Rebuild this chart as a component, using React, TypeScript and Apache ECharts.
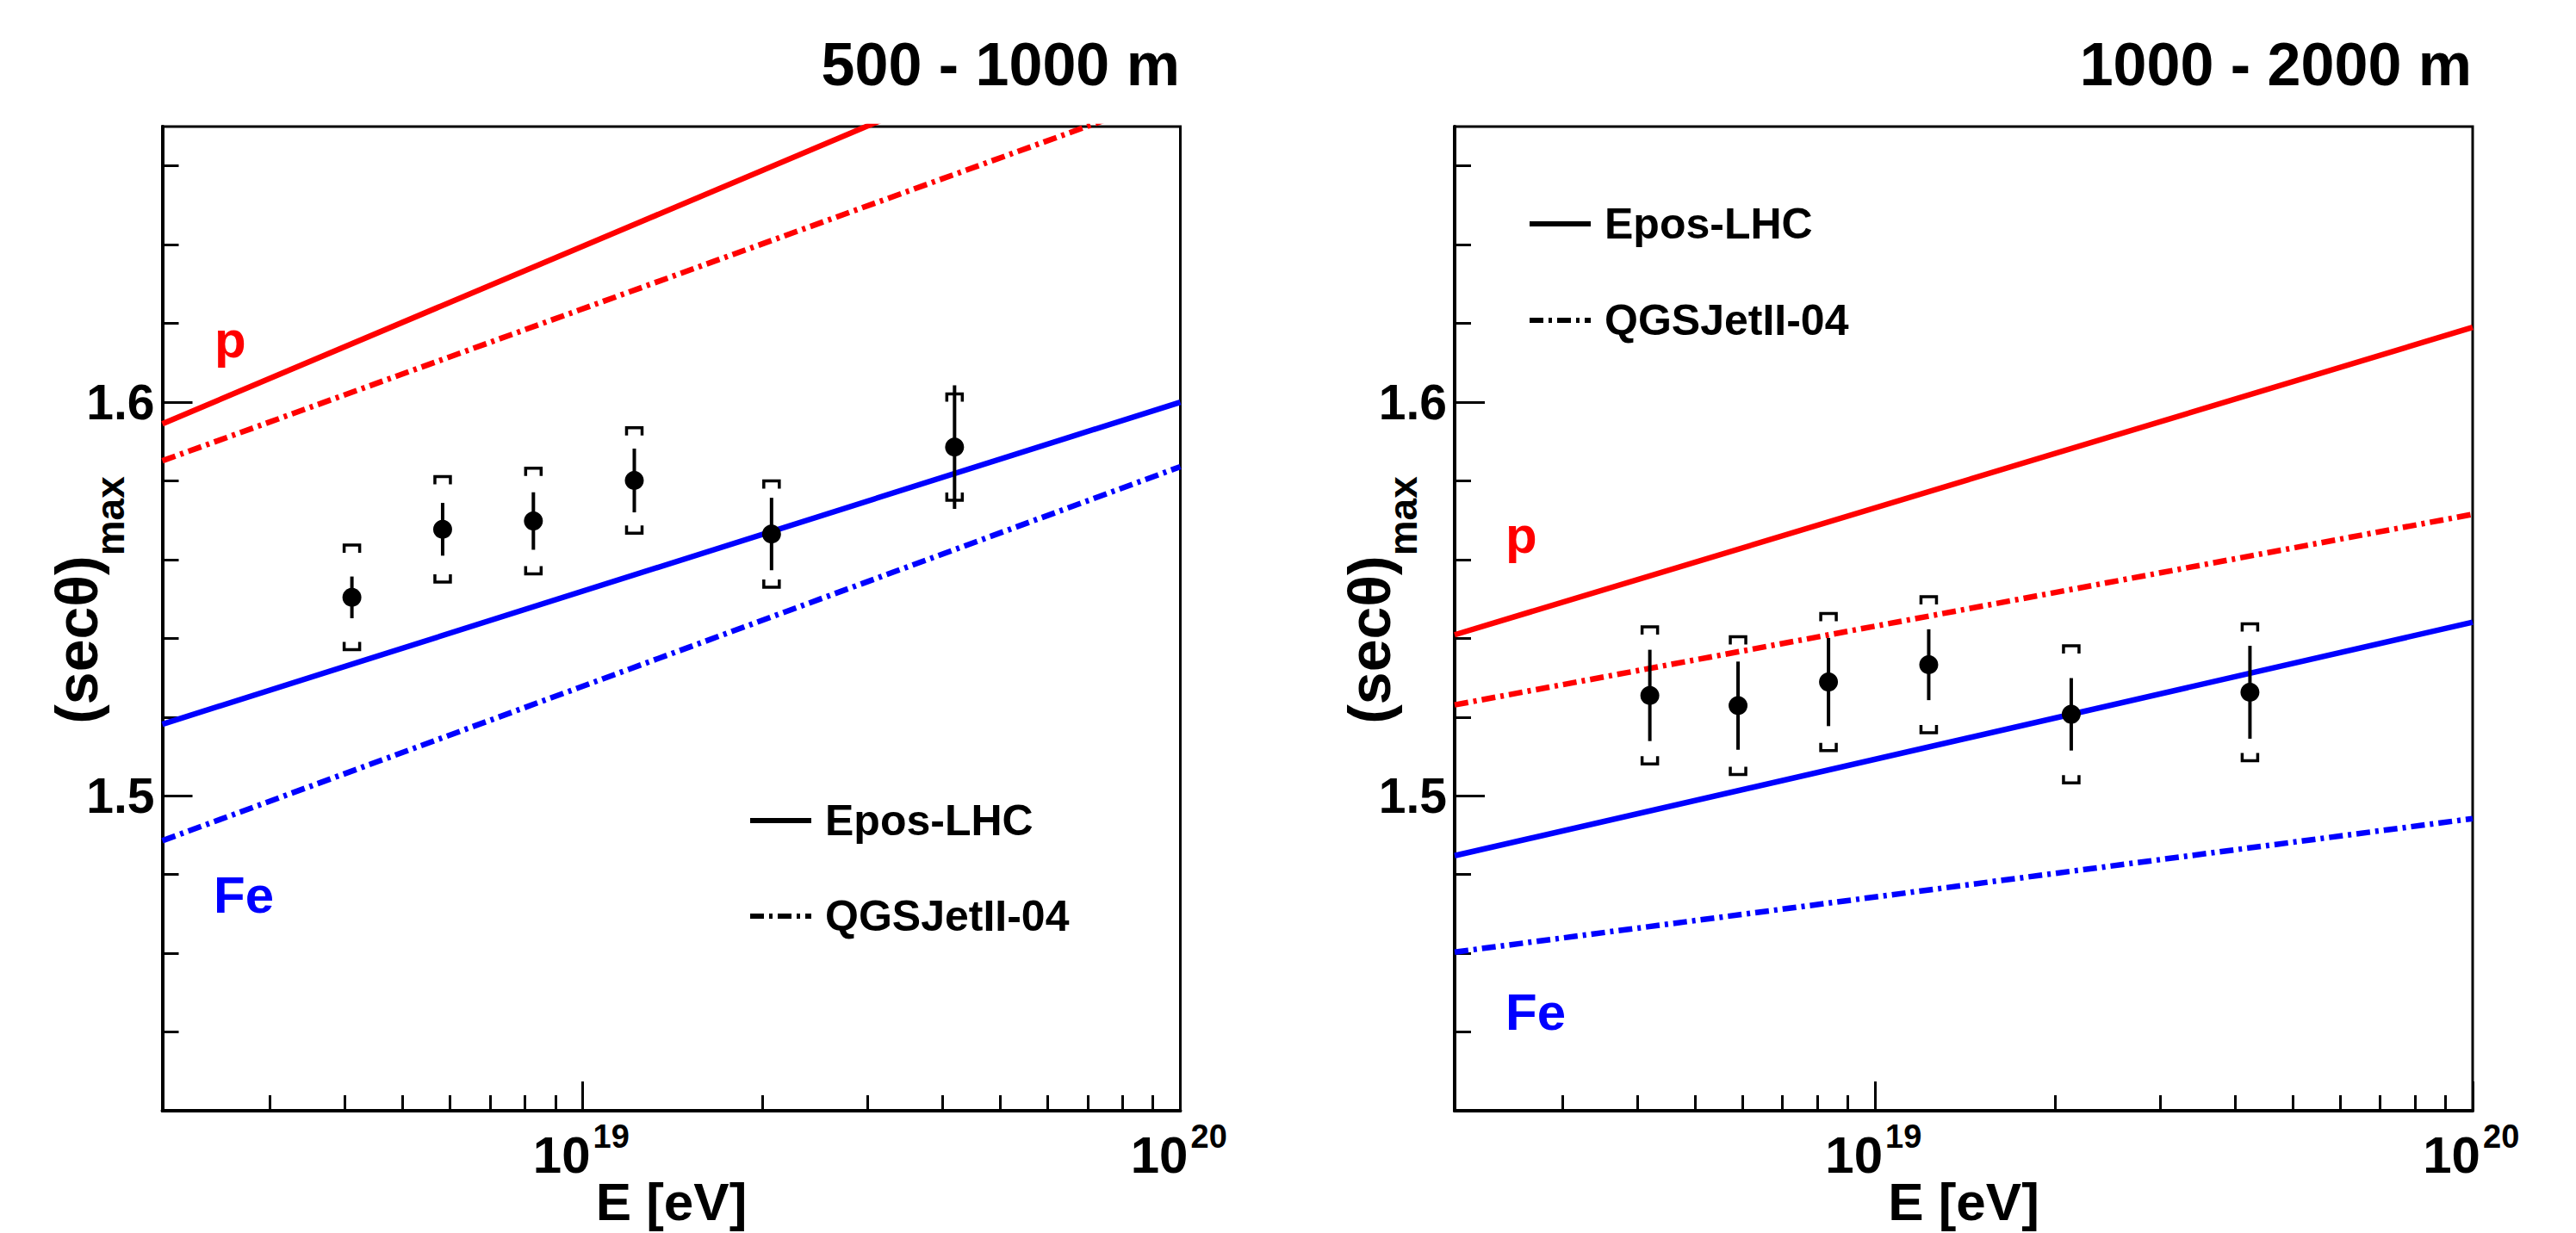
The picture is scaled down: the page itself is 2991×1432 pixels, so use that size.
import React, { useEffect, useRef } from 'react';
import * as echarts from 'echarts';

const FONT = '"Liberation Sans", Arial, Helvetica, sans-serif';

// ---------- data ----------
const PANEL_TITLES = ['500 - 1000 m', '1000 - 2000 m'];
const MODEL_NAMES = ['Epos-LHC', 'QGSJetII-04'];
const X_RANGE = [1.98e18, 1e20];
const Y_RANGE = [1.42, 1.67];
const X_MAJOR_TICKS = [1e19, 1e20];
const X_MINOR_TICKS = [3e18, 4e18, 5e18, 6e18, 7e18, 8e18, 9e18, 2e19, 3e19, 4e19, 5e19, 6e19, 7e19, 8e19, 9e19];
const Y_MAJOR_TICKS = [1.5, 1.6];
const Y_MINOR_TICKS = [1.44, 1.46, 1.48, 1.52, 1.54, 1.56, 1.58, 1.62, 1.64, 1.66];

// model lines: values at the two ends of the energy range
const MODEL_ENERGY = [1.98e18, 1e20];
const P_EPOS_NEAR = [1.5945, 1.7037];
const P_QGS_NEAR = [1.5851, 1.6786];
const FE_EPOS_NEAR = [1.5182, 1.6];
const FE_QGS_NEAR = [1.4886, 1.5836];
const P_EPOS_FAR = [1.5409, 1.619];
const P_QGS_FAR = [1.5231, 1.5715];
const FE_EPOS_FAR = [1.4848, 1.5441];
const FE_QGS_FAR = [1.4603, 1.4942];

// measurements
const ENERGY_NEAR = [4.11e18, 5.83e18, 8.27e18, 1.22e19, 2.07e19, 4.19e19];
const SEC_NEAR = [1.5504, 1.5677, 1.5698, 1.5801, 1.5665, 1.5886];
const STAT_NEAR = [0.0053, 0.0067, 0.0073, 0.0081, 0.0092, 0.0157];
const SYS_NEAR = [0.0133, 0.0134, 0.0134, 0.0134, 0.0135, 0.0135];

const ENERGY_FAR = [4.2e18, 5.9e18, 8.36e18, 1.23e19, 2.13e19, 4.24e19];
const SEC_FAR = [1.5255, 1.5229, 1.5289, 1.5333, 1.5207, 1.5263];
const STAT_FAR = [0.0116, 0.0112, 0.0112, 0.009, 0.0092, 0.0118];
const SYS_FAR = [0.0174, 0.0175, 0.0174, 0.0173, 0.0174, 0.0174];

// ---------- layout ----------
const GRID_TOP = 147;
const GRID_H = 1143;
const GRID_W = 1182;
const GRID_LEFTS = [188.5, 1689];
const DASHDOT = [16, 6, 4, 6];
const RED = '#ff0000';
const BLUE = '#0000ff';

const txt = (x: number, y: number, text: string, size: number, color: string, align = 'left') => ({
  type: 'text', x, y, silent: true,
  style: { text, fontSize: size, fontWeight: 'bold', fontFamily: FONT, fill: color, align, verticalAlign: 'middle' },
});

function buildOption() {
  const panels = [
    { models: [P_EPOS_NEAR, P_QGS_NEAR, FE_EPOS_NEAR, FE_QGS_NEAR], e: ENERGY_NEAR, v: SEC_NEAR, st: STAT_NEAR, sy: SYS_NEAR },
    { models: [P_EPOS_FAR, P_QGS_FAR, FE_EPOS_FAR, FE_QGS_FAR], e: ENERGY_FAR, v: SEC_FAR, st: STAT_FAR, sy: SYS_FAR },
  ];
  const grid: any[] = [];
  const xAxis: any[] = [];
  const yAxis: any[] = [];
  const series: any[] = [];

  GRID_LEFTS.forEach((left, g) => {
    grid.push({
      left, top: GRID_TOP, width: GRID_W, height: GRID_H, outerBoundsMode: 'none', containLabel: false,
      show: true, borderColor: '#000', borderWidth: 3, backgroundColor: 'transparent',
    });
    xAxis.push({
      gridIndex: g, type: 'log', logBase: 10, min: X_RANGE[0], max: X_RANGE[1], position: 'bottom',
      axisLine: { show: false },
      axisTick: { show: true, inside: true, length: 18, lineStyle: { color: '#000', width: 3 }, customValues: X_MINOR_TICKS },
      axisLabel: { show: false }, splitLine: { show: false }, minorTick: { show: false },
    });
    xAxis.push({
      gridIndex: g, type: 'log', logBase: 10, min: X_RANGE[0], max: X_RANGE[1], position: 'bottom',
      axisLine: { show: true, onZero: false, lineStyle: { color: '#000', width: 4 } },
      axisTick: { show: true, inside: true, length: 34, lineStyle: { color: '#000', width: 3 }, customValues: X_MAJOR_TICKS },
      axisLabel: { show: false },
      splitLine: { show: false },
      name: 'E [eV]', nameLocation: 'middle', nameGap: 74,
      nameTextStyle: { fontSize: 62, fontWeight: 'bold', fontFamily: FONT, color: '#000' },
    });
    yAxis.push({
      gridIndex: g, type: 'value', min: Y_RANGE[0], max: Y_RANGE[1], position: 'left',
      axisLine: { show: false },
      axisTick: { show: true, inside: true, length: 19, lineStyle: { color: '#000', width: 3 }, customValues: Y_MINOR_TICKS },
      axisLabel: { show: false }, splitLine: { show: false },
    });
    yAxis.push({
      gridIndex: g, type: 'value', min: Y_RANGE[0], max: Y_RANGE[1], position: 'left',
      axisLine: { show: true, onZero: false, lineStyle: { color: '#000', width: 4 } },
      axisTick: { show: true, inside: true, length: 35, lineStyle: { color: '#000', width: 3 }, customValues: Y_MAJOR_TICKS },
      axisLabel: {
        show: true, customValues: Y_MAJOR_TICKS, margin: 9,
        formatter: (v: number) => v.toFixed(1),
        fontSize: 57, fontWeight: 'bold', fontFamily: FONT, color: '#000',
      },
      splitLine: { show: false },
    });

    const p = panels[g];
    const xi = 2 * g + 1;
    const styles = [
      { color: RED, type: 'solid' },
      { color: RED, type: DASHDOT },
      { color: BLUE, type: 'solid' },
      { color: BLUE, type: DASHDOT },
    ];
    p.models.forEach((m, k) => {
      series.push({
        type: 'line', xAxisIndex: xi, yAxisIndex: xi, symbol: 'none', silent: true, clip: true,
        lineStyle: { color: styles[k].color, width: 6.5, type: styles[k].type },
        data: MODEL_ENERGY.map((e, i) => [e, m[i]]),
        z: 2,
      });
    });
    // systematic brackets
    series.push({
      type: 'custom', xAxisIndex: xi, yAxisIndex: xi, silent: true, z: 3,
      data: p.e.map((e, i) => [e, p.v[i], p.sy[i]]),
      encode: { x: 0, y: 1 },
      renderItem: (params: any, api: any) => {
        const x = api.value(0), y = api.value(1), s = api.value(2);
        const t = api.coord([x, y + s]);
        const b = api.coord([x, y - s]);
        const hw = 9, leg = 9;
        const st = { stroke: '#000', lineWidth: 3.5, fill: 'none' };
        return {
          type: 'group',
          children: [
            { type: 'polyline', shape: { points: [[t[0] - hw, t[1] + leg], [t[0] - hw, t[1]], [t[0] + hw, t[1]], [t[0] + hw, t[1] + leg]] }, style: st },
            { type: 'polyline', shape: { points: [[b[0] - hw, b[1] - leg], [b[0] - hw, b[1]], [b[0] + hw, b[1]], [b[0] + hw, b[1] - leg]] }, style: st },
          ],
        };
      },
    });
    // statistical error bars
    series.push({
      type: 'custom', xAxisIndex: xi, yAxisIndex: xi, silent: true, z: 4,
      data: p.e.map((e, i) => [e, p.v[i], p.st[i]]),
      encode: { x: 0, y: 1 },
      renderItem: (params: any, api: any) => {
        const x = api.value(0), y = api.value(1), s = api.value(2);
        const t = api.coord([x, y + s]);
        const b = api.coord([x, y - s]);
        return { type: 'line', shape: { x1: t[0], y1: t[1], x2: b[0], y2: b[1] }, style: { stroke: '#000', lineWidth: 4 } };
      },
    });
    series.push({
      type: 'scatter', xAxisIndex: xi, yAxisIndex: xi, symbol: 'circle', symbolSize: 22, silent: true, z: 5,
      itemStyle: { color: '#000', opacity: 1 },
      data: p.e.map((e, i) => [e, p.v[i]]),
    });
  });

  const legend = (lx: number, y1: number, y2: number) => [
    { type: 'line', silent: true, shape: { x1: lx, y1, x2: lx + 71, y2: y1 }, style: { stroke: '#000', lineWidth: 6 } },
    { type: 'line', silent: true, shape: { x1: lx, y1: y2, x2: lx + 71, y2: y2 }, style: { stroke: '#000', lineWidth: 6, lineDash: DASHDOT } },
    txt(lx + 87, y1, MODEL_NAMES[0], 50, '#000'),
    txt(lx + 87, y2, MODEL_NAMES[1], 50, '#000'),
  ];
  const ytitle = (x: number) => ({
    type: 'text', x, y: 697, rotation: Math.PI / 2, silent: true,
    style: {
      text: '{m|(secθ)}{s|max}', align: 'center', verticalAlign: 'middle',
      rich: {
        m: { fontSize: 68, fontWeight: 'bold', fontFamily: FONT, fill: '#000', lineHeight: 68, verticalAlign: 'top' },
        s: { fontSize: 46, fontWeight: 'bold', fontFamily: FONT, fill: '#000', lineHeight: 46, padding: [50, 0, 0, 0], verticalAlign: 'top' },
      },
    },
  });

  const graphic: any[] = [
    txt(1370, 75, PANEL_TITLES[0], 70, '#000', 'right'),
    txt(2870, 75, PANEL_TITLES[1], 70, '#000', 'right'),
    ytitle(89),
    ytitle(1590),
    txt(249, 394, 'p', 60, RED),
    txt(248, 1039, 'Fe', 60, BLUE),
    txt(1748, 621, 'p', 60, RED),
    txt(1748, 1175, 'Fe', 60, BLUE),
    ...legend(871, 953, 1064),
    ...legend(1776, 260, 372),
  ];

  return {
    animation: false,
    backgroundColor: '#fff',
    grid, xAxis, yAxis, series, graphic,
  };
}

export default function App() {
  const ref = useRef<HTMLDivElement>(null);
  useEffect(() => {
    document.body.style.margin = '0';
    const chart = echarts.init(ref.current!, undefined, { renderer: 'svg' });
    const option: any = buildOption();
    chart.setOption(option);
    // x tick labels "10^n", placed at the axis' own pixel positions
    const extra: any[] = [];
    GRID_LEFTS.forEach((_, g) => {
      X_MAJOR_TICKS.forEach((v) => {
        const px = chart.convertToPixel({ xAxisIndex: 2 * g + 1 } as any, v) as number;
        extra.push(txt(px + 9, 1341, '10', 60, '#000', 'right'));
        extra.push(txt(px + 12, 1320, String(Math.round(Math.log10(v))), 38, '#000', 'left'));
      });
    });
    chart.setOption({ graphic: [...option.graphic, ...extra] });
    return () => chart.dispose();
  }, []);
  return <div ref={ref} style={{ position: 'absolute', left: 0, top: 0, width: 2991, height: 1432 }} />;
}
